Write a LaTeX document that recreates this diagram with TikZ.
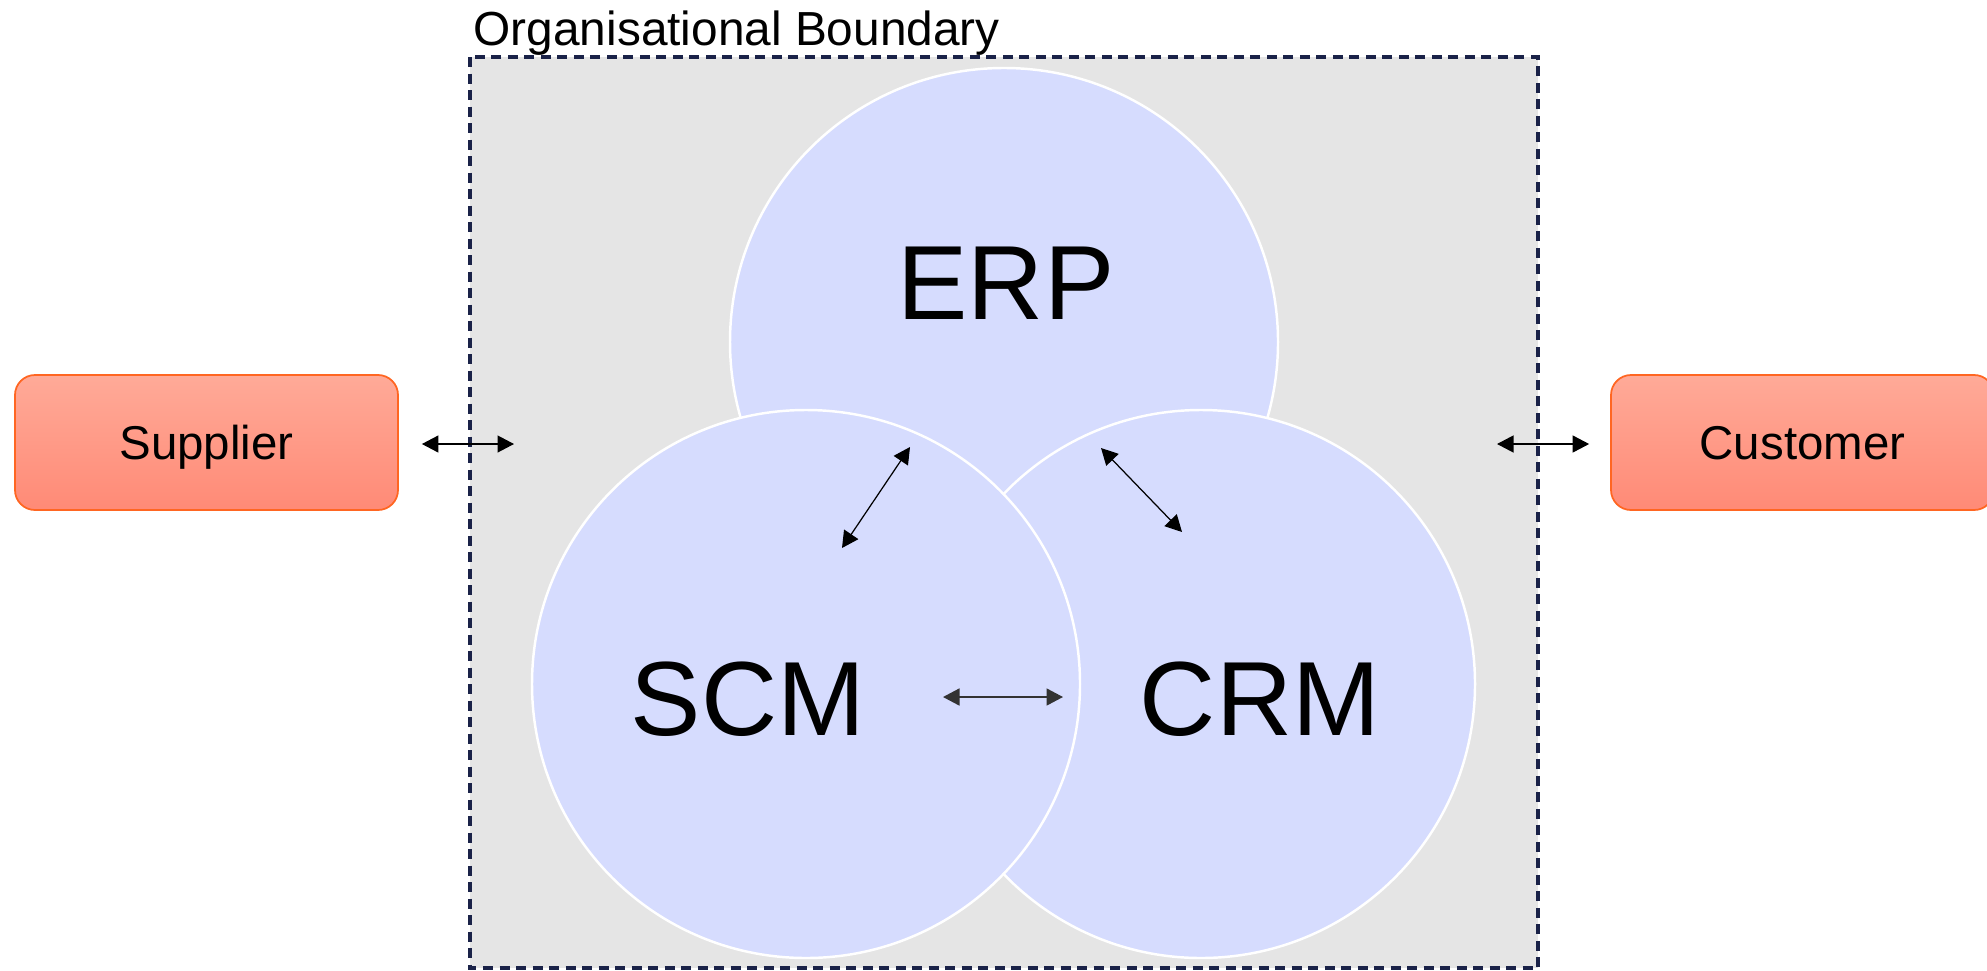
\documentclass[tikz,border=0pt]{standalone}
\usepackage{fontspec}
\setmainfont{Liberation Sans}
\usetikzlibrary{arrows.meta}

\definecolor{orggray}{RGB}{229,229,229}
\definecolor{orgline}{RGB}{26,34,72}
\definecolor{sysblue}{RGB}{214,220,254}
\definecolor{partytop}{RGB}{255,170,152}
\definecolor{partybottom}{RGB}{255,138,118}
\definecolor{partyline}{RGB}{255,102,34}

\tikzset{
  sysring/.style={circle, draw=white, line width=0.7pt, fill=sysblue, minimum size=5.48cm, inner sep=0pt},
  syslabel/.style={font=\fontsize{30pt}{36pt}\selectfont, anchor=base, inner sep=0pt},
  partybox/.style={rectangle, rounded corners=0.2cm, draw=partyline, line width=0.5pt, top color=partytop, bottom color=partybottom, minimum width=3.83cm, minimum height=1.35cm, text height=9.7pt, text depth=0pt, font=\fontsize{13.5pt}{16pt}\selectfont},
  flow/.style={{Triangle[length=1.65mm,width=1.7mm]}-{Triangle[length=1.65mm,width=1.7mm]}, line width=0.35pt}
}

\begin{document}
\begin{tikzpicture}
\useasboundingbox (0,0) rectangle (19.87,-9.70);

% organisational boundary
\draw[fill=orggray, draw=orgline, line width=0.9pt, dash pattern=on 1mm off 0.65mm] (4.70,-0.57) rectangle (15.38,-9.68);
\node[anchor=base west, inner sep=0pt, font=\fontsize{13.6pt}{16pt}\selectfont] (orgtitle) at (4.73,-0.45) {Organisational Boundary};

% the three systems (SCM drawn last, on top)
\node[sysring] (erp) at (10.04,-3.42) {};
\node[sysring] (crm) at (12.01,-6.84) {};
\node[sysring] (scm) at (8.06,-6.84) {};
\node[syslabel] (erplabel) at (10.06,-3.19) {ERP};
\node[syslabel] (scmlabel) at (7.48,-7.35) {SCM};
\node[syslabel] (crmlabel) at (12.60,-7.35) {CRM};

% outside parties
\node[partybox] (supplier) at (2.065,-4.425) {Supplier};
\node[partybox] (customer) at (18.025,-4.425) {Customer};

% arrow ends
\coordinate (supout) at ([xshift=0.23cm,yshift=-0.015cm]supplier.east);
\coordinate (supin) at (5.14,-4.44);
\coordinate (cusin) at (14.97,-4.44);
\coordinate (cusout) at ([xshift=-0.21cm,yshift=-0.015cm]customer.west);
\coordinate (scmup) at (8.42,-5.48);
\coordinate (erpleft) at (9.10,-4.47);
\coordinate (erpright) at (11.01,-4.48);
\coordinate (crmup) at (11.82,-5.32);
\coordinate (scmright) at (9.43,-6.97);
\coordinate (crmleft) at (10.63,-6.97);

% information flows
\draw[flow] (supout) -- (supin);
\draw[flow] (cusin) -- (cusout);
\draw[flow] (scmup) -- (erpleft);
\draw[flow] (erpright) -- (crmup);
\draw[flow, line width=0.5pt, draw=black!80] (scmright) -- (crmleft);
\end{tikzpicture}
\end{document}
